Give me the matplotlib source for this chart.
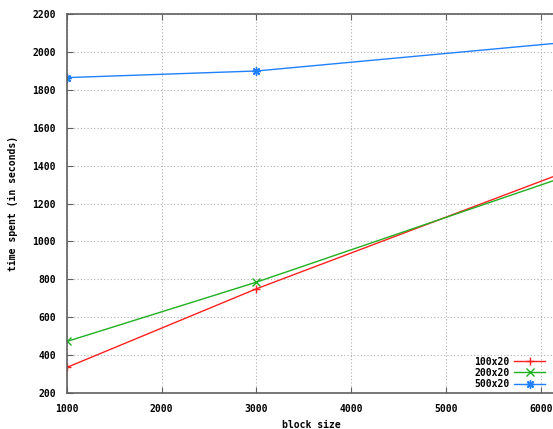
import matplotlib.pyplot as plt
from matplotlib.ticker import MultipleLocator

# block sizes and time spent (seconds)
block_size = [1000, 3000, 6200]
t_100x20 = [335, 750, 1355]
t_200x20 = [472, 785, 1332]
t_500x20 = [1865, 1900, 2048]

labels = ['100x20', '200x20', '500x20']
colors = ['#ff2020', '#20b020', '#2080ff']
markers = ['+', 'x', (8, 2, 0)]

font = {'family': 'DejaVu Sans Mono', 'weight': 'bold', 'size': 7}

fig = plt.figure(figsize=(5.53, 4.29), dpi=100)
ax = fig.add_axes([0.121, 0.084, 0.885, 0.883])

for ys, lab, c, m in zip([t_100x20, t_200x20, t_500x20], labels, colors, markers):
    ax.plot(block_size, ys, color=c, lw=1, marker=m, ms=6, mew=1, label=lab)

ax.set_xlim(1000, 6165)
ax.set_ylim(200, 2200)
ax.xaxis.set_major_locator(MultipleLocator(1000))
ax.yaxis.set_major_locator(MultipleLocator(200))

ax.grid(True, color='#b0b0b0', linestyle=(0, (1, 2)), lw=0.8)
for s in ['left', 'bottom', 'top']:
    ax.spines[s].set_color('#606060')
    ax.spines[s].set_linewidth(1.2)
ax.spines['right'].set_visible(False)
ax.tick_params(direction='in', length=4, color='#606060', top=True, right=False, pad=8)

for t in ax.get_xticklabels() + ax.get_yticklabels():
    t.set_fontfamily(font['family'])
    t.set_fontweight('bold')
    t.set_fontsize(font['size'])

ax.set_xlabel('block size', fontdict=font, labelpad=4)
ax.set_ylabel('time spent (in seconds)', fontdict=font, labelpad=10)

leg = ax.legend(loc='lower right', frameon=False, prop=font, markerfirst=False,
                handlelength=3.1, handletextpad=0.5, labelspacing=0.12,
                borderpad=0.1, bbox_to_anchor=(0.988, -0.005))

plt.savefig('out.png', dpi=100)
